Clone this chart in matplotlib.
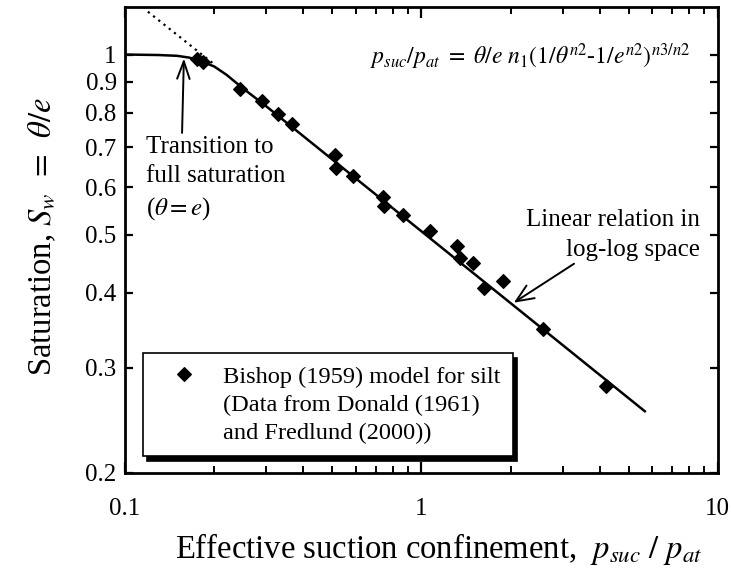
import matplotlib
matplotlib.use("Agg")
import matplotlib.pyplot as plt
from matplotlib.lines import Line2D
from matplotlib.ticker import NullLocator, FixedLocator, NullFormatter

plt.rcParams['font.family'] = ['Liberation Serif', 'DejaVu Serif']
plt.rcParams['mathtext.fontset'] = 'stix'

# Measured data (Bishop 1959 model for silt)
suction = [0.1745, 0.1837, 0.2445, 0.289, 0.328, 0.365, 0.510, 0.517, 0.589,
           0.743, 0.749, 0.868, 1.068, 1.32, 1.348, 1.495, 1.628, 1.888, 2.564, 4.19]
saturation = [0.983, 0.973, 0.875, 0.835, 0.795, 0.766, 0.679, 0.647, 0.627,
              0.578, 0.558, 0.539, 0.507, 0.479, 0.458, 0.448, 0.408, 0.419, 0.348, 0.279]

# Model curve
curve_x = [0.10, 0.13, 0.15, 0.165, 0.18, 0.20, 0.22, 0.25, 0.30, 5.67]
curve_s = [1.0, 0.998, 0.995, 0.988, 0.975, 0.955, 0.925, 0.878, 0.819, 0.2536]

# Dotted extension of linear relation
dot_x = [0.1195, 0.20]
dot_s = [1.179, 0.963]

yticks = [0.2, 0.3, 0.4, 0.5, 0.6, 0.7, 0.8, 0.9, 1.0]
ytick_labels = ['0.2', '0.3', '0.4', '0.5', '0.6', '0.7', '0.8', '0.9', '1']
xticks = [0.1, 1, 10]
xtick_labels = ['0.1', '1', '10']

legend_lines = ['Bishop (1959) model for silt', '(Data from Donald (1961)',
                'and Fredlund (2000))']

fig = plt.figure(figsize=(7.31, 5.78), dpi=100)
ax = fig.add_axes([0.171, 0.1817, 0.811, 0.806])
ax.set_xscale('log')
ax.set_yscale('log')
ax.set_xlim(0.1, 10)
ax.set_ylim(0.2, 1.2)

ax.plot(dot_x, dot_s, color='k', lw=1.6, linestyle=(0, (1, 2.0)))
ax.plot(curve_x, curve_s, color='k', lw=1.8, zorder=3)
pts, = ax.plot(suction, saturation, linestyle='none', marker='D', ms=7.2, color='k',
               mec='k', mew=0.8, zorder=4)

# ticks
ax.yaxis.set_major_locator(FixedLocator(yticks))
ax.yaxis.set_minor_locator(NullLocator())
ax.set_yticklabels(ytick_labels)
ax.xaxis.set_major_locator(FixedLocator(xticks))
ax.set_xticklabels(xtick_labels)
ax.xaxis.set_minor_locator(FixedLocator([m * d for d in (0.1, 1) for m in range(2, 10)]))
ax.xaxis.set_minor_formatter(NullFormatter())
ax.tick_params(axis='both', which='major', direction='in', length=8, width=1.6,
               top=True, right=True, labelsize=18)
ax.tick_params(axis='x', which='major', pad=18)
ax.tick_params(axis='y', which='major', length=6, pad=6)
ax.tick_params(axis='x', which='minor', direction='in', length=5, width=1.4,
               top=True, bottom=True)
for s in ax.spines.values():
    s.set_linewidth(2)

ax.set_xlabel(r'Effective suction confinement,  $p_{suc}\ /\ p_{at}$', fontsize=23.5)
ax.xaxis.set_label_coords(0.529, -0.124)
ax.set_ylabel(r'Saturation, $S_w\ \,=\ \,\theta/e$', fontsize=23.5)
ax.yaxis.set_label_coords(-0.112, 0.507)

ax.text(0.683, 0.893, r'$p_{suc}/p_{at}\ =\ \theta/e\ n_1(1/\theta^{n2}$-$1/e^{n2})^{n3/n2}$',
        transform=ax.transAxes, ha='center', va='center', fontsize=17)

ax.annotate('Transition to\nfull saturation\n' + r'($\theta = e$)',
            xy=(0.158, 0.985), xytext=(0.035, 0.724), textcoords='axes fraction',
            ha='left', va='top', fontsize=18, linespacing=1.42,
            arrowprops=dict(arrowstyle='->,head_length=0.7,head_width=0.25', color='k', lw=1.4,
                            shrinkA=0, shrinkB=0, relpos=(0.26, 1.0)))

ax.annotate('Linear relation in\nlog-log space', xy=(2.05, 0.385), xytext=(0.970, 0.566),
            textcoords='axes fraction', ha='right', va='top', fontsize=18,
            multialignment='right', linespacing=1.45,
            arrowprops=dict(arrowstyle='->,head_length=0.7,head_width=0.3', color='k', lw=1.4,
                            shrinkA=0, shrinkB=0, relpos=(0.3, 0.0)))

blank = Line2D([], [], linestyle='none', marker='none')
leg = ax.legend([pts, blank, blank], legend_lines, loc='lower left',
                bbox_to_anchor=(0.030, 0.036), borderaxespad=0,
                fontsize=17.6, frameon=True, fancybox=False, edgecolor='k',
                shadow={'ox': 3, 'oy': -3.5, 'color': 'k', 'alpha': 1},
                borderpad=0.5, handlelength=2.4, handletextpad=0.4, labelspacing=0.25,
                framealpha=1)
leg.get_frame().set_linewidth(1.2)

fig.savefig('out.png', dpi=100)
